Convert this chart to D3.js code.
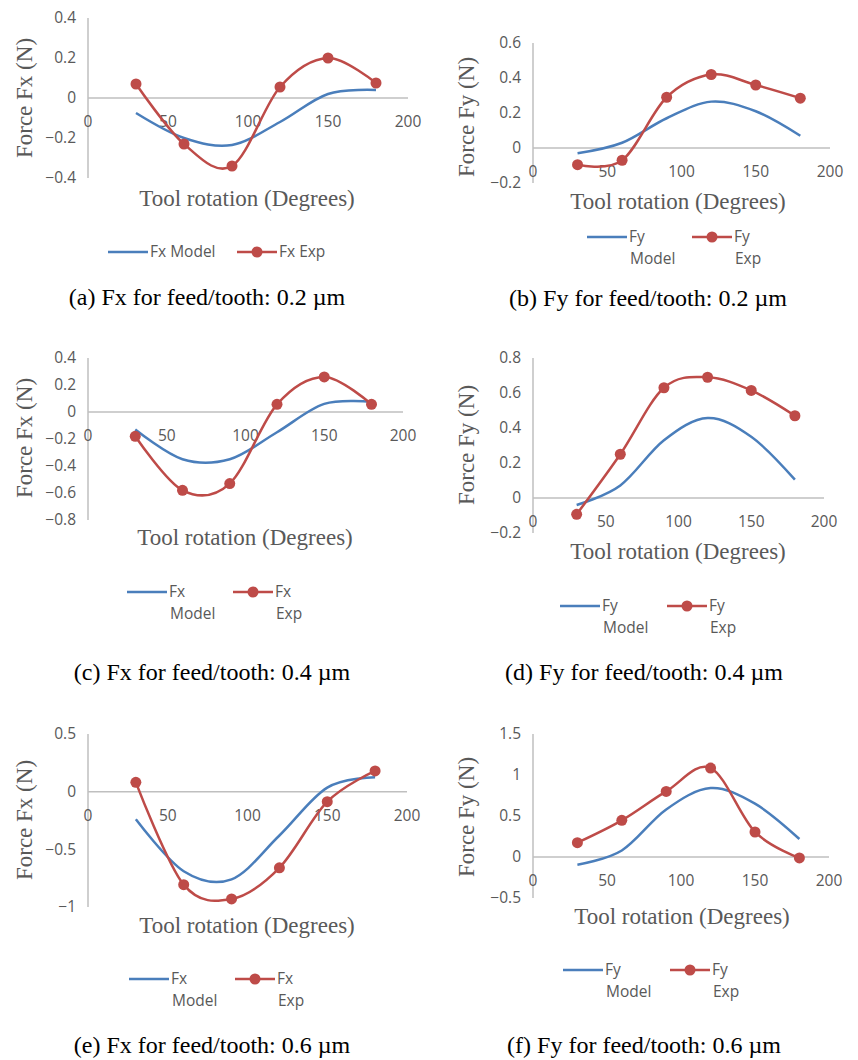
<!DOCTYPE html>
<html>
<head>
<meta charset="utf-8">
<script src="https://cdn.jsdelivr.net/npm/d3@7"></script>
<style>
  body { margin: 0; background: #fff; }
  svg { display: block; }
  .tick-label, .legend-label { font-family: "Open Sans", sans-serif; font-size: 15.5px; fill: #595959; }
  .axis-title { font-family: "Liberation Serif", "Times New Roman", serif; font-size: 23px; fill: #595959; }
  .caption { font-family: "Liberation Serif", "Times New Roman", serif; font-size: 24px; fill: #000; }
</style>
</head>
<body>
<div id="chart"></div>
<script>
// DATA ----------------------------------------------
const angles = [30, 60, 90, 120, 150, 180];
const xTicks = [0, 50, 100, 150, 200];

// feed/tooth 0.2 um
const fxModel02 = [-0.075, -0.2, -0.235, -0.12, 0.02, 0.04];
const fxExp02   = [0.07, -0.23, -0.34, 0.055, 0.2, 0.075];
const fyModel02 = [-0.03, 0.03, 0.17, 0.265, 0.21, 0.07];
const fyExp02   = [-0.095, -0.07, 0.29, 0.42, 0.36, 0.285];
// feed/tooth 0.4 um
const fxModel04 = [-0.13, -0.35, -0.35, -0.15, 0.06, 0.075];
const fxExp04   = [-0.18, -0.58, -0.53, 0.057, 0.26, 0.057];
const fyModel04 = [-0.04, 0.072, 0.33, 0.457, 0.35, 0.105];
const fyExp04   = [-0.093, 0.25, 0.63, 0.69, 0.615, 0.47];
// feed/tooth 0.6 um
const fxModel06 = [-0.24, -0.69, -0.76, -0.38, 0.035, 0.125];
const fxExp06   = [0.081, -0.806, -0.93, -0.66, -0.087, 0.18];
const fyModel06 = [-0.094, 0.08, 0.58, 0.84, 0.65, 0.22];
const fyExp06   = [0.175, 0.447, 0.80, 1.085, 0.305, -0.012];

const yTicksA = [-0.4, -0.2, 0, 0.2, 0.4];
const yTicksB = [-0.2, 0, 0.2, 0.4, 0.6];
const yTicksC = [-0.8, -0.6, -0.4, -0.2, 0, 0.2, 0.4];
const yTicksD = [-0.2, 0, 0.2, 0.4, 0.6, 0.8];
const yTicksE = [-1, -0.5, 0, 0.5];
const yTicksF = [-0.5, 0, 0.5, 1, 1.5];

const xTitle = "Tool rotation (Degrees)";
const captions = [
  "(a) Fx for feed/tooth: 0.2 \u00b5m", "(b) Fy for feed/tooth: 0.2 \u00b5m",
  "(c) Fx for feed/tooth: 0.4 \u00b5m", "(d) Fy for feed/tooth: 0.4 \u00b5m",
  "(e) Fx for feed/tooth: 0.6 \u00b5m", "(f) Fy for feed/tooth: 0.6 \u00b5m"
];

// LAYOUT --------------------------------------------
const blue = "#4a7ebb", red = "#be4b48", axisCol = "#bfbfbf";

const panels = [
  { model: fxModel02, exp: fxExp02, ticks: yTicksA, yTitle: "Force Fx (N)", names: [["Fx Model"], ["Fx Exp"]],
    x0: 88, x1: 408, yTop: 18, yBot: 178, yt: [25, 98], xt: [247, 199], cap: [207, 297],
    leg: { y: 252, b: 108, r: 237 } },
  { model: fyModel02, exp: fyExp02, ticks: yTicksB, yTitle: "Force Fy (N)", names: [["Fy", "Model"], ["Fy", "Exp"]],
    x0: 533, x1: 830, yTop: 43, yBot: 183, yt: [467, 117], xt: [678, 202], cap: [648, 298],
    leg: { y: 237, b: 587, r: 692 } },
  { model: fxModel04, exp: fxExp04, ticks: yTicksC, yTitle: "Force Fx (N)", names: [["Fx", "Model"], ["Fx", "Exp"]],
    x0: 88, x1: 403, yTop: 358, yBot: 520, yt: [25, 438], xt: [245, 538], cap: [212, 672],
    leg: { y: 592, b: 127, r: 233 } },
  { model: fyModel04, exp: fyExp04, ticks: yTicksD, yTitle: "Force Fy (N)", names: [["Fy", "Model"], ["Fy", "Exp"]],
    x0: 533, x1: 824, yTop: 358, yBot: 533, yt: [467, 445], xt: [678, 552], cap: [644, 672],
    leg: { y: 606, b: 560, r: 667 } },
  { model: fxModel06, exp: fxExp06, ticks: yTicksE, yTitle: "Force Fx (N)", names: [["Fx", "Model"], ["Fx", "Exp"]],
    x0: 88, x1: 407, yTop: 734, yBot: 907, yt: [25, 820], xt: [247, 926], cap: [212, 1045],
    leg: { y: 979, b: 129, r: 235 } },
  { model: fyModel06, exp: fyExp06, ticks: yTicksF, yTitle: "Force Fy (N)", names: [["Fy", "Model"], ["Fy", "Exp"]],
    x0: 533, x1: 829, yTop: 734, yBot: 898, yt: [467, 817], xt: [682, 917], cap: [644, 1045],
    leg: { y: 970, b: 563, r: 670 } }
];

const svg = d3.select("#chart").append("svg")
    .attr("width", 858)
    .attr("height", 1060);

panels.forEach((p, i) => {
    const g = svg.append("g");
    const x = d3.scaleLinear().domain([0, 200]).range([p.x0, p.x1]);
    const y = d3.scaleLinear().domain(d3.extent(p.ticks)).range([p.yBot, p.yTop]);

    // vertical axis line and horizontal zero line
    g.append("line")
        .attr("x1", x(0)).attr("x2", x(0))
        .attr("y1", y(p.ticks[p.ticks.length - 1])).attr("y2", y(p.ticks[0]))
        .attr("stroke", axisCol).attr("stroke-width", 1.5);
    g.append("line")
        .attr("x1", x(0)).attr("x2", x(200))
        .attr("y1", y(0)).attr("y2", y(0))
        .attr("stroke", axisCol).attr("stroke-width", 1.5);

    // y tick labels
    g.selectAll("text.ytick").data(p.ticks).join("text")
        .attr("class", "tick-label ytick")
        .attr("x", x(0) - 12)
        .attr("y", d => y(d))
        .attr("dy", "0.35em")
        .attr("text-anchor", "end")
        .text(d => d3.format("")(d));

    // x tick labels sit just under the zero line
    g.selectAll("text.xtick").data(xTicks).join("text")
        .attr("class", "tick-label xtick")
        .attr("x", d => x(d))
        .attr("y", y(0) + 24)
        .attr("dy", "0.35em")
        .attr("text-anchor", "middle")
        .text(d => d);

    // series
    const line = d3.line()
        .x((d, j) => x(angles[j]))
        .y(d => y(d))
        .curve(d3.curveCatmullRom.alpha(0));

    g.append("path").datum(p.model)
        .attr("d", line)
        .attr("fill", "none").attr("stroke", blue).attr("stroke-width", 2.5);
    g.append("path").datum(p.exp)
        .attr("d", line)
        .attr("fill", "none").attr("stroke", red).attr("stroke-width", 2.5);
    g.selectAll("circle.pt").data(p.exp).join("circle")
        .attr("class", "pt")
        .attr("cx", (d, j) => x(angles[j]))
        .attr("cy", d => y(d))
        .attr("r", 5.5)
        .attr("fill", red);

    // axis titles
    g.append("text")
        .attr("class", "axis-title")
        .attr("transform", `translate(${p.yt[0]},${p.yt[1]}) rotate(-90)`)
        .attr("dy", "0.32em")
        .attr("text-anchor", "middle")
        .text(p.yTitle);
    g.append("text")
        .attr("class", "axis-title")
        .attr("x", p.xt[0]).attr("y", p.xt[1])
        .attr("dy", "0.32em")
        .attr("text-anchor", "middle")
        .text(xTitle);

    // legend
    const legItems = [
        { x: p.leg.b, col: blue, marker: false, lines: p.names[0] },
        { x: p.leg.r, col: red, marker: true, lines: p.names[1] }
    ];
    legItems.forEach(it => {
        g.append("line")
            .attr("x1", it.x).attr("x2", it.x + 40)
            .attr("y1", p.leg.y).attr("y2", p.leg.y)
            .attr("stroke", it.col).attr("stroke-width", 2.5);
        if (it.marker) {
            g.append("circle")
                .attr("cx", it.x + 20).attr("cy", p.leg.y)
                .attr("r", 5.5).attr("fill", it.col);
        }
        const t = g.append("text")
            .attr("class", "legend-label")
            .attr("x", it.x + 42).attr("y", p.leg.y)
            .attr("dy", "0.35em");
        it.lines.forEach((s, k) => {
            t.append("tspan")
                .attr("x", it.x + 42 + (k > 0 ? 1 : 0))
                .attr("dy", k === 0 ? "0.35em" : "22px")
                .text(s);
        });
    });

    // caption
    g.append("text")
        .attr("class", "caption")
        .attr("x", p.cap[0]).attr("y", p.cap[1])
        .attr("dy", "0.32em")
        .attr("text-anchor", "middle")
        .text(captions[i]);
});
</script>
</body>
</html>
